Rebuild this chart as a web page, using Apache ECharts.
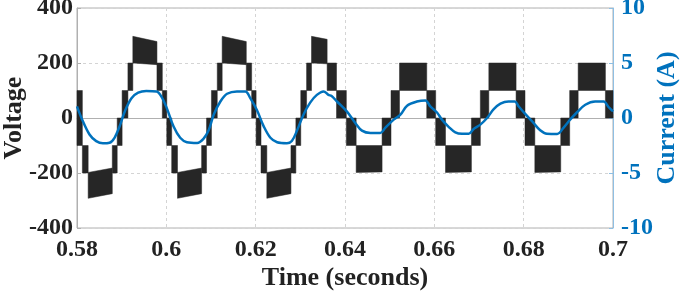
<!DOCTYPE html>
<html>
<head>
<meta charset="utf-8">
<script src="https://cdn.jsdelivr.net/npm/echarts@6/dist/echarts.min.js"></script>
<style>
  html, body { margin: 0; padding: 0; background: #fff; }
  #chart { width: 685px; height: 293px; }
</style>
</head>
<body>
<div id="chart"></div>
<script>
// voltage bands: [tStart, tEnd, lowStart, highStart, lowEnd, highEnd]
var voltBands = [
    [0.5800, 0.5812, -100, 100, -100, 100],
    [0.5812, 0.5825, -200, -100, -200, -100],
    [0.5825, 0.5879, -292, -198, -275, -182],
    [0.5879, 0.5890, -200, -100, -200, -100],
    [0.5890, 0.5901, -100, 0, -100, 0],
    [0.5901, 0.5914, 0, 100, 0, 100],
    [0.5914, 0.5925, 100, 200, 100, 200],
    [0.5925, 0.5979, 200, 297, 194, 278],
    [0.5979, 0.5991, 100, 200, 100, 200],
    [0.5991, 0.6001, 0, 100, 0, 100],

    [0.6001, 0.6012, -100, 0, -100, 0],
    [0.6012, 0.6025, -200, -100, -200, -100],
    [0.6025, 0.6079, -292, -198, -275, -182],
    [0.6079, 0.6090, -200, -100, -200, -100],
    [0.6090, 0.6101, -100, 0, -100, 0],
    [0.6101, 0.6114, 0, 100, 0, 100],
    [0.6114, 0.6125, 100, 200, 100, 200],
    [0.6125, 0.6179, 200, 297, 194, 278],
    [0.6179, 0.6191, 100, 200, 100, 200],
    [0.6191, 0.6201, 0, 100, 0, 100],

    [0.6201, 0.6212, -100, 0, -100, 0],
    [0.6212, 0.6225, -200, -100, -200, -100],
    [0.6225, 0.6279, -292, -198, -275, -182],
    [0.6279, 0.6290, -200, -100, -200, -100],
    [0.6290, 0.6301, -100, 0, -100, 0],
    [0.6301, 0.6314, 0, 100, 0, 100],
    [0.6314, 0.6325, 100, 200, 100, 200],
    [0.6325, 0.6360, 200, 297, 197, 286],
    [0.6360, 0.6381, 100, 200, 100, 200],
    [0.6381, 0.6403, 0, 100, 0, 100],

    [0.6403, 0.6425, -100, 0, -100, 0],
    [0.6425, 0.6483, -198, -100, -196, -100],
    [0.6483, 0.6503, -100, 0, -100, 0],
    [0.6503, 0.6522, 0, 100, 0, 100],
    [0.6522, 0.6583, 100, 200, 100, 200],
    [0.6583, 0.6603, 0, 100, 0, 100],
    [0.6603, 0.6625, -100, 0, -100, 0],
    [0.6625, 0.6683, -198, -100, -196, -100],
    [0.6683, 0.6703, -100, 0, -100, 0],
    [0.6703, 0.6722, 0, 100, 0, 100],
    [0.6722, 0.6783, 100, 200, 100, 200],
    [0.6783, 0.6803, 0, 100, 0, 100],
    [0.6803, 0.6825, -100, 0, -100, 0],
    [0.6825, 0.6883, -198, -100, -196, -100],
    [0.6883, 0.6903, -100, 0, -100, 0],
    [0.6903, 0.6922, 0, 100, 0, 100],
    [0.6922, 0.6983, 100, 200, 100, 200],
    [0.6983, 0.7000, 0, 100, 0, 100]
];

var currentTime = [
    0.5800, 0.5810, 0.5828, 0.5843, 0.5858, 0.5873, 0.5884, 0.5895, 0.5907, 0.5922,
    0.5937, 0.5955, 0.5978, 0.5989, 0.6001, 0.6016, 0.6031, 0.6046, 0.6069, 0.6083,
    0.6095, 0.6106, 0.6121, 0.6136, 0.6158, 0.6177, 0.6188, 0.6203, 0.6218, 0.6233,
    0.6248, 0.6270, 0.6281, 0.6293, 0.6307, 0.6322, 0.6337, 0.6352, 0.6363, 0.6370,
    0.6382, 0.6404, 0.6423, 0.6438, 0.6457, 0.6479, 0.6490, 0.6509, 0.6524, 0.6539,
    0.6561, 0.6580, 0.6591, 0.6606, 0.6617, 0.6632, 0.6647, 0.6662, 0.6677, 0.6688,
    0.6703, 0.6718, 0.6733, 0.6748, 0.6766, 0.6780, 0.6789, 0.6805, 0.6822, 0.6837,
    0.6852, 0.6875, 0.6889, 0.6904, 0.6919, 0.6938, 0.6960, 0.6979, 0.6990, 0.7000
];
var currentAmps = [
    1.05, 0.0, -1.5, -2.1, -2.3, -2.25, -1.8, -0.8, 0.6, 1.8,
    2.3, 2.45, 2.4, 1.95, 0.9, -0.76, -1.8, -2.2, -2.27, -1.9,
    -1.1, 0.3, 1.5, 2.2, 2.42, 2.42, 1.8, 0.7, -0.76, -1.8,
    -2.2, -2.3, -2.1, -1.1, 0.3, 1.4, 2.1, 2.42, 2.1, 2.0,
    1.5, 0.6, -0.45, -1.15, -1.36, -1.36, -0.9, -0.15, 0.3, 1.12,
    1.5, 1.6, 1.05, 0.5, -0.15, -0.8, -1.3, -1.43, -1.43, -1.0,
    -0.6, 0.0, 0.8, 1.3, 1.5, 1.5, 1.05, 0.3, -0.45, -1.12,
    -1.43, -1.45, -0.9, -0.15, 0.5, 1.2, 1.5, 1.5, 1.0, 0.6
];

var chart = echarts.init(document.getElementById('chart'));

var serif = 'Liberation Serif';
var blue = '#0072BD';

var currentData = currentTime.map(function (t, i) {
    return [t, currentAmps[i]];
});

var option = {
    backgroundColor: '#fff',
    animation: false,
    grid: {
        left: 77, right: 72, top: 8, bottom: 65,
        outerBoundsMode: 'none',
        containLabel: false,
        show: true, borderColor: '#b0b0b0', borderWidth: 1
    },
    xAxis: {
        type: 'value',
        min: 0.58, max: 0.7, interval: 0.02,
        name: 'Time (seconds)',
        nameLocation: 'middle',
        nameGap: 37,
        nameMoveOverlap: false,
        nameTextStyle: { fontFamily: serif, fontWeight: 'bold', fontSize: 26, color: '#222' },
        axisLine: { show: true, lineStyle: { color: '#b0b0b0' } },
        axisTick: { show: true, inside: true, length: 4, lineStyle: { color: '#b0b0b0' } },
        axisLabel: {
            margin: 10, fontFamily: serif, fontWeight: 'bold', fontSize: 24, color: '#222',
            formatter: function (v) { return String(parseFloat(v.toFixed(2))); }
        },
        splitLine: { show: true, lineStyle: { color: '#d4d4d4', type: [3, 3] } }
    },
    yAxis: [
        {
            type: 'value',
            min: -400, max: 400, interval: 200,
            name: 'Voltage',
            nameLocation: 'middle',
            nameGap: 50,
            nameMoveOverlap: false,
            nameTextStyle: { fontFamily: serif, fontWeight: 'bold', fontSize: 26, color: '#222' },
            axisLine: { show: true, lineStyle: { color: '#b0b0b0' } },
            axisTick: { show: true, inside: true, length: 4, lineStyle: { color: '#b0b0b0' } },
            axisLabel: { margin: 4, fontFamily: serif, fontWeight: 'bold', fontSize: 24, color: '#222' },
            splitLine: { show: true, lineStyle: { color: '#d4d4d4', type: [3, 3] } }
        },
        {
            type: 'value',
            min: -10, max: 10, interval: 5,
            position: 'right',
            name: 'Current (A)',
            nameLocation: 'middle',
            nameGap: 41,
            nameRotate: 90,
            nameMoveOverlap: false,
            nameTextStyle: { fontFamily: serif, fontWeight: 'bold', fontSize: 26, color: blue },
            axisLine: { show: true, lineStyle: { color: '#8fbfe3' } },
            axisTick: { show: true, inside: true, length: 4, lineStyle: { color: '#8fbfe3' } },
            axisLabel: { margin: 8, fontFamily: serif, fontWeight: 'bold', fontSize: 24, color: blue },
            splitLine: { show: false }
        }
    ],
    series: [
        {
            name: 'Voltage',
            type: 'custom',
            xAxisIndex: 0,
            yAxisIndex: 0,
            data: voltBands,
            encode: { x: [0, 1], y: [2, 3, 4, 5] },
            renderItem: function (params, api) {
                var t0 = api.value(0), t1 = api.value(1);
                var pts = [
                    api.coord([t0, api.value(3)]),
                    api.coord([t1, api.value(5)]),
                    api.coord([t1, api.value(4)]),
                    api.coord([t0, api.value(2)])
                ];
                return {
                    type: 'polygon',
                    shape: { points: pts },
                    style: { fill: '#262626', stroke: '#262626', lineWidth: 0.5 }
                };
            },
            z: 2
        },
        {
            name: 'Current',
            type: 'line',
            xAxisIndex: 0,
            yAxisIndex: 1,
            data: currentData,
            smooth: 0.35,
            showSymbol: false,
            symbol: 'none',
            lineStyle: { color: blue, width: 2.5 },
            z: 3
        }
    ]
};

chart.setOption(option);
</script>
</body>
</html>
